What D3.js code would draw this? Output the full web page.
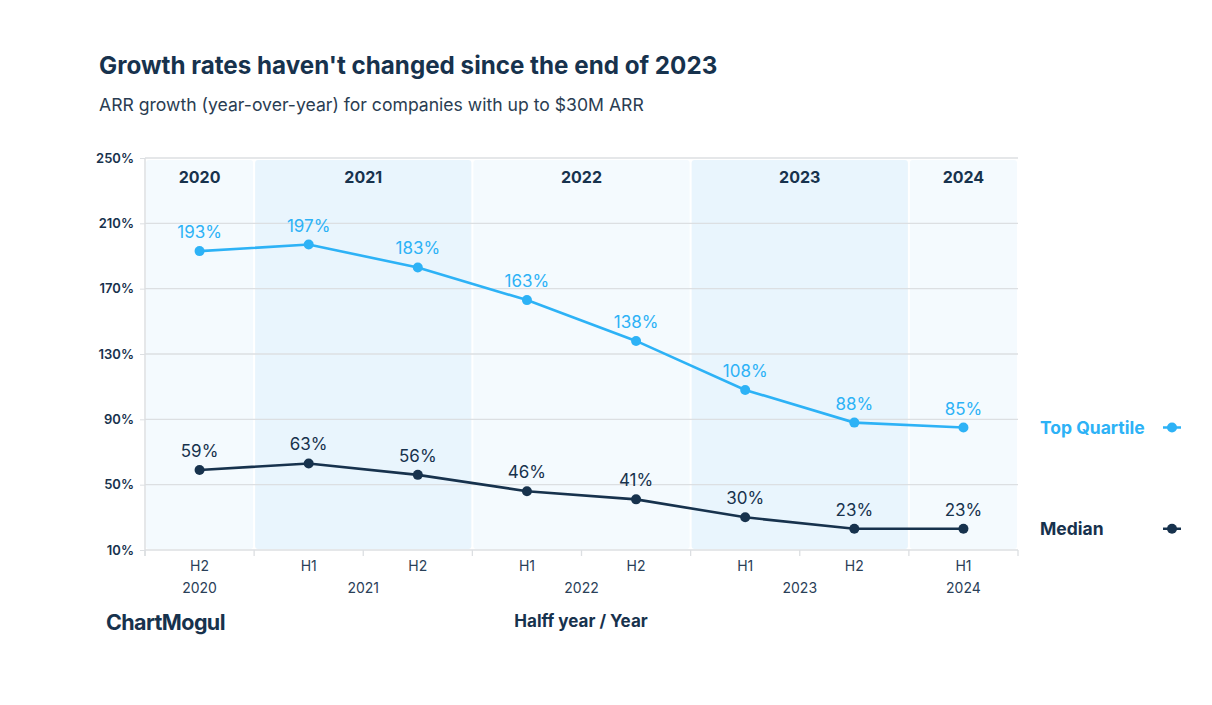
<!DOCTYPE html>
<html><head><meta charset="utf-8">
<script src="https://cdn.jsdelivr.net/npm/d3@7"></script>
<style>
html,body{margin:0;padding:0;background:#fff;}
svg{display:block;font-family:Inter, "Noto Sans", sans-serif;}
</style></head>
<body><svg id="c" width="1212" height="705"></svg>
<script>
const halves = ["H2","H1","H2","H1","H2","H1","H2","H1"];
const years = ["2020","2021","2021","2022","2022","2023","2023","2024"];
const topQuartile = [193,197,183,163,138,108,88,85];
const median = [59,63,56,46,41,30,23,23];
const yTicks = [10,50,90,130,170,210,250];
const yearGroups = ["2020","2021","2022","2023","2024"];

const svg = d3.select("#c");
const L=145,R=1018,T=158,B=550;
const keys = halves.map((h,i)=>i);
const x = d3.scaleBand().domain(keys).range([L,R]).paddingInner(0).paddingOuter(0);
const y = d3.scaleLinear().domain([10,250]).range([B,T]);
const dark="#17324d", light="#2db2f6";

svg.append("text").attr("x",99).attr("y",74).attr("font-size",24.2).attr("font-weight",700).attr("fill",dark).text("Growth rates haven't changed since the end of 2023");
svg.append("text").attr("x",99).attr("y",111).attr("font-size",17.6).attr("fill","#2a3d52").text("ARR growth (year-over-year) for companies with up to $30M ARR");

// year backgrounds
yearGroups.forEach((yr,gi)=>{
  const idx = years.map((v,i)=>v===yr?i:-1).filter(i=>i>=0);
  const x0 = x(idx[0]), x1 = x(idx[idx.length-1])+x.bandwidth();
  svg.append("rect").attr("x",x0+1).attr("y",T+2).attr("width",x1-x0-2).attr("height",B-T-3)
    .attr("rx",3).attr("fill", gi%2===0?"#f4fafe":"#e9f5fd");
  svg.append("text").attr("x",(x0+x1)/2).attr("y",183).attr("text-anchor","middle")
    .attr("font-size",16).attr("font-weight",700).attr("fill",dark).text(yr);
});

// grid
svg.append("g").selectAll("line").data(yTicks).join("line")
  .attr("x1",L).attr("x2",R).attr("y1",d=>y(d)).attr("y2",d=>y(d))
  .attr("stroke","#dcdfe2").attr("stroke-width",1.3);
svg.append("line").attr("x1",L).attr("x2",L).attr("y1",T).attr("y2",B+6).attr("stroke","#dcdfe2").attr("stroke-width",1.5);
// y labels
const ya = svg.append("g").attr("transform",`translate(${L},0)`).call(d3.axisLeft(y).tickValues(yTicks).tickSize(5).tickFormat(d=>d+"%"));
ya.select(".domain").remove();
ya.selectAll("line").attr("stroke","#dcdfe2");
ya.selectAll("text").attr("font-size",13).attr("font-weight",600).attr("fill",dark).attr("font-family","Inter, sans-serif").attr("dx",-3);

// x ticks at band edges
const edges = keys.map(k=>x(k)).concat([R]);
svg.append("g").selectAll("line").data(edges).join("line")
  .attr("x1",d=>d).attr("x2",d=>d).attr("y1",B).attr("y2",B+6).attr("stroke","#dcdfe2").attr("stroke-width",1.3);
svg.append("g").selectAll("text").data(keys).join("text")
  .attr("x",d=>x(d)+x.bandwidth()/2).attr("y",571).attr("text-anchor","middle")
  .attr("font-size",14).attr("fill","#2a4058").text(d=>halves[d]);
yearGroups.forEach(yr=>{
  const idx = years.map((v,i)=>v===yr?i:-1).filter(i=>i>=0);
  const x0 = x(idx[0]), x1 = x(idx[idx.length-1])+x.bandwidth();
  svg.append("text").attr("x",(x0+x1)/2).attr("y",593).attr("text-anchor","middle")
    .attr("font-size",14).attr("fill","#2a4058").text(yr);
});

svg.append("text").attr("x",581).attr("y",627).attr("text-anchor","middle").attr("font-size",17).attr("font-weight",700).attr("fill",dark).text("Halff year / Year");
svg.append("text").attr("x",106).attr("y",630).attr("font-size",21.5).attr("font-weight",700).attr("letter-spacing",-0.6).attr("fill",dark).text("ChartMogul");

function series(vals,color){
  const cx = i=>x(i)+x.bandwidth()/2;
  svg.append("path").datum(vals).attr("fill","none").attr("stroke",color).attr("stroke-width",2.6)
    .attr("d",d3.line().x((d,i)=>cx(i)).y(d=>y(d)));
  svg.append("g").selectAll("circle").data(vals).join("circle")
    .attr("cx",(d,i)=>cx(i)).attr("cy",d=>y(d)).attr("r",5).attr("fill",color);
  svg.append("g").selectAll("text").data(vals).join("text")
    .attr("x",(d,i)=>cx(i)).attr("y",d=>y(d)-13).attr("text-anchor","middle")
    .attr("font-size",17).attr("fill",color).text(d=>d+"%");
}
series(topQuartile,light);
series(median,dark);

// legend
[["Top Quartile",light,topQuartile],["Median",dark,median]].forEach(([n,c,v])=>{
  const yy = y(v[v.length-1]);
  svg.append("text").attr("x",1040).attr("y",yy+6).attr("font-size",17.5).attr("font-weight",700).attr("fill",c).text(n);
  svg.append("line").attr("x1",1163).attr("x2",1181).attr("y1",yy).attr("y2",yy).attr("stroke",c).attr("stroke-width",2.5);
  svg.append("circle").attr("cx",1172).attr("cy",yy).attr("r",5).attr("fill",c);
});
</script></body></html>
